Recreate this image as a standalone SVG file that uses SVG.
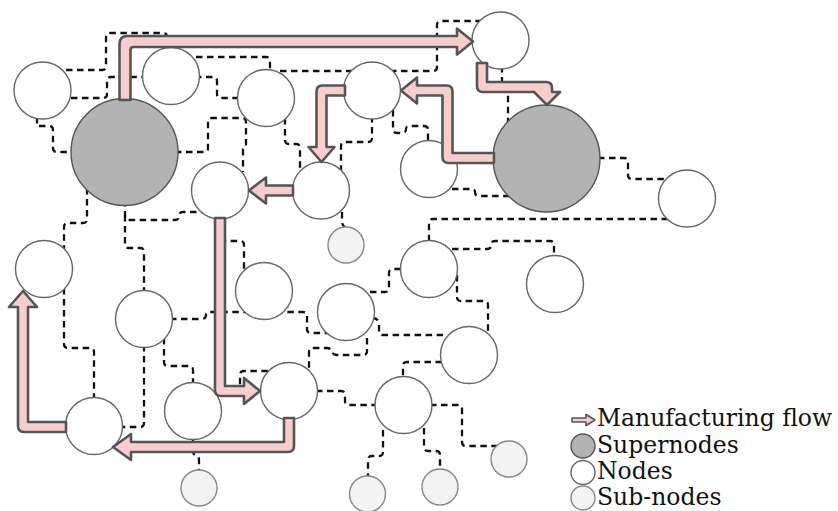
<svg xmlns="http://www.w3.org/2000/svg" width="838" height="511" viewBox="0 0 838 511">
<style>
.e{fill:none;stroke:#111;stroke-width:2.3;stroke-dasharray:6.5 4.5}
.n{fill:#fff;stroke:#666;stroke-width:1.4}
.s{fill:#b3b3b3;stroke:#555;stroke-width:1.4}
.u{fill:#f3f3f3;stroke:#888;stroke-width:1.4}
.a{fill:#f8cecc;stroke:#555;stroke-width:2.6;stroke-linejoin:round}
.t{font-family:"DejaVu Serif","Liberation Serif",serif;font-size:23.5px;fill:#111}
</style>
<rect width="838" height="511" fill="#fff"/>
<g id="connectors">
<path class="e" d="M55,70 H102 Q106,70 106,66 V37 Q106,33 110,33 H163 Q167,33 167,37 V50"/>
<path class="e" d="M60,98 H103 Q107,98 107,94 V81 Q107,77 111,77 H150"/>
<path class="e" d="M195,77 H213 Q217,77 217,81 V94 Q217,98 221,98 H240"/>
<path class="e" d="M185,57 H266 Q270,57 270,61 V72"/>
<path class="e" d="M280,71 H433 Q437,71 437,67 V25 Q437,21 441,21 H485"/>
<path class="e" d="M37,117 V126 H49 Q53,126 53,130 V148 Q53,152 57,152 H75"/>
<path class="e" d="M175,152 H204 Q208,152 208,148 V122 Q208,118 212,118 H242 Q246,118 246,122 V144 Q246,147 243,149 V172"/>
<path class="e" d="M125,200 V216 Q125,220 129,220 H175 Q179,220 179,216 Q179,212 183,212 H205"/>
<path class="e" d="M125,215 V244 Q125,248 129,248 H140 Q144,248 144,252 V292"/>
<path class="e" d="M87,188 V219 Q87,223 83,223 H68 Q64,223 64,227 V250"/>
<path class="e" d="M64,288 V344 Q64,348 68,348 H90 Q94,348 94,352 V400"/>
<path class="e" d="M144,345 V423 Q144,427 140,427 H120"/>
<path class="e" d="M164,338 V362 Q164,366 168,366 H189 Q193,366 193,370 V385"/>
<path class="e" d="M170,319 H201 Q206,319 206,315 Q206,312 210,312 H303 Q307,312 307,316 V329 Q307,333 311,333 H330"/>
<path class="e" d="M222,215 V237 Q222,241 226,241 H240 Q244,241 244,245 V275"/>
<path class="e" d="M285,118 V140 Q285,144 289,144 H296 Q300,144 300,148 V170"/>
<path class="e" d="M372,116 V138 Q372,142 368,142 H345 Q341,142 341,146 V172"/>
<path class="e" d="M393,110 V129 Q393,133 397,133 H402 Q406,133 406,129 Q406,126 410,126 H424 Q428,126 428,130 V142"/>
<path class="e" d="M502,66 V82 Q502,86 506,86 Q508,86 508,90 V124"/>
<path class="e" d="M452,189 H471 Q475,189 475,192 Q475,196 479,196 H510"/>
<path class="e" d="M598,158 H624 Q628,158 628,162 V175 Q628,179 632,179 H668"/>
<path class="e" d="M668,219 H433 Q429,219 429,223 V242"/>
<path class="e" d="M342,212 V221 Q342,226 346,228"/>
<path class="e" d="M452,249 H487 Q491,249 491,245 Q491,241 495,241 H550 Q554,241 554,245 V258"/>
<path class="e" d="M457,275 V297 Q457,301 461,301 H484 Q488,301 488,305 V335"/>
<path class="e" d="M370,292 H385 Q389,292 389,288 V273 Q389,269 393,269 H402"/>
<path class="e" d="M372,318 Q379,318 379,325 V331 Q379,335 383,335 H445"/>
<path class="e" d="M367,338 V351 Q367,355 363,355 H337 Q333,355 332,352 Q331,348 327,348 H313 Q309,348 309,352 V372"/>
<path class="e" d="M214,393 H236 Q240,393 240,389 V375 Q240,371 244,371 H270"/>
<path class="e" d="M193,438 V451 Q193,455 197,456 Q199,457 199,460 V472"/>
<path class="e" d="M442,362 H407 Q403,362 403,366 V378"/>
<path class="e" d="M316,391 H341 Q345,391 345,395 V401 Q345,405 349,405 H378"/>
<path class="e" d="M383,430 V452 Q383,456 379,456 H372 Q368,456 368,460 V478"/>
<path class="e" d="M424,428 V447 Q424,451 428,451 H436 Q440,451 440,455 V470"/>
<path class="e" d="M430,405 H458 Q462,405 462,409 V442 Q462,446 466,446 H500"/>
</g>
<g id="supernode-a"><circle class="s" cx="124.5" cy="152" r="53.5"/></g>
<g id="supernode-b"><circle class="s" cx="546.5" cy="158.5" r="53.5"/></g>
<g id="node-1"><circle class="n" cx="42.5" cy="90.5" r="28.5"/></g>
<g id="node-2"><circle class="n" cx="171" cy="76" r="28.5"/></g>
<g id="node-3"><circle class="n" cx="266" cy="98" r="28.5"/></g>
<g id="node-5"><circle class="n" cx="220" cy="190.5" r="28.5"/></g>
<g id="node-6"><circle class="n" cx="500.5" cy="40.5" r="28.5"/></g>
<g id="node-7"><circle class="n" cx="372" cy="90.5" r="28.5"/></g>
<g id="node-8"><circle class="n" cx="429" cy="169" r="28.5"/></g>
<g id="node-9"><circle class="n" cx="321" cy="190.5" r="28.5"/></g>
<g id="node-11"><circle class="n" cx="687" cy="198.5" r="28.5"/></g>
<g id="node-13"><circle class="n" cx="44" cy="269" r="28.5"/></g>
<g id="node-14"><circle class="n" cx="144" cy="319" r="28.5"/></g>
<g id="node-15"><circle class="n" cx="264" cy="291" r="28.5"/></g>
<g id="node-16"><circle class="n" cx="346" cy="312" r="28.5"/></g>
<g id="node-17"><circle class="n" cx="429" cy="269" r="28.5"/></g>
<g id="node-18"><circle class="n" cx="555" cy="284" r="28.5"/></g>
<g id="node-19"><circle class="n" cx="469" cy="355" r="28.5"/></g>
<g id="node-20"><circle class="n" cx="193" cy="411" r="28.5"/></g>
<g id="node-21"><circle class="n" cx="94" cy="426" r="28.5"/></g>
<g id="node-22"><circle class="n" cx="289" cy="391" r="28.5"/></g>
<g id="node-23"><circle class="n" cx="403.5" cy="405" r="28.5"/></g>
<g id="subnode-12"><circle class="u" cx="346" cy="245" r="18"/></g>
<g id="subnode-24"><circle class="u" cx="199" cy="488" r="18"/></g>
<g id="subnode-25"><circle class="u" cx="367.5" cy="494" r="18"/></g>
<g id="subnode-26"><circle class="u" cx="440" cy="487" r="18"/></g>
<g id="subnode-27"><circle class="u" cx="509" cy="459" r="18"/></g>
<g id="flow">
<path class="a" d="M119.5,100 V44 Q119.5,36 127.5,36 H457 V28.5 L473,41.5 L457,54.5 V47 H133.5 Q130.5,47 130.5,50 V100 Z"/>
<path class="a" d="M477,63 V86 Q477,92 483,92 H534 L547,105 L560,92 H552 V88 Q552,82 546,82 H487 V63 Z"/>
<path class="a" d="M401,90.5 L417,77.5 V85.5 H446.5 Q452.5,85.5 452.5,91.5 V153 H494 V163 H448.5 Q442.5,163 442.5,157 V95.5 H417 V103.5 Z"/>
<path class="a" d="M345,85.5 H322.5 Q316.5,85.5 316.5,91.5 V147 H308.5 L321.5,162 L334.5,147 H326.5 V95.5 H345 Z"/>
<path class="a" d="M249,190.5 L266,177.5 V185.5 H293 V195.5 H266 V203.5 Z"/>
<path class="a" d="M215,218 V390 Q215,396 221,396 H244 V404 L260,391 L244,378 V386 H225 V218 Z"/>
<path class="a" d="M294,418 V446 Q294,452 288,452 H131 V460 L113,447 L131,434 V442 H284 V418 Z"/>
<path class="a" d="M66,422 H28 V307 H37 L23,291 L9,307 H18 V426 Q18,432 24,432 H66 Z"/>
</g>
<g id="legend">
<path class="a" style="stroke-width:1.6" d="M572,418 H586 V414.5 L595,420 L586,425.5 V422 H572 Z"/>
<circle class="s" cx="583" cy="446" r="12"/>
<circle class="n" cx="583" cy="472.5" r="12"/>
<circle class="u" cx="583" cy="498" r="12"/>
<text class="t" x="597" y="426">Manufacturing flow</text>
<text class="t" x="597" y="452.5">Supernodes</text>
<text class="t" x="597" y="479">Nodes</text>
<text class="t" x="597" y="505">Sub-nodes</text>
</g>
</svg>
